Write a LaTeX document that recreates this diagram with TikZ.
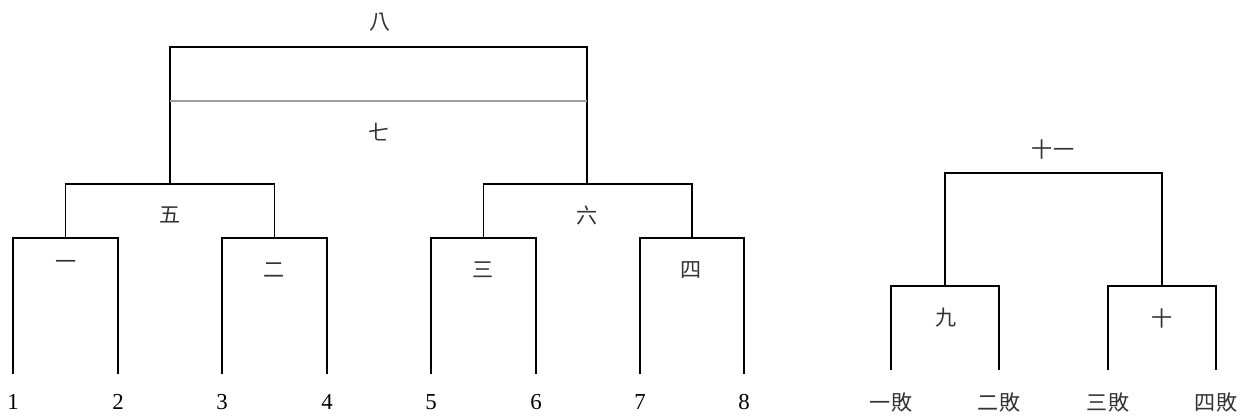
\documentclass[tikz,border=0pt]{standalone}
\usepackage{fontspec}
\setmainfont{Liberation Serif}
\newfontfamily\cjk{Noto Sans CJK TC}
\usepackage{tikz}
\usetikzlibrary{calc}

\begin{document}
\begin{tikzpicture}[x=0.02cm,y=-0.02cm,
    seed/.style={font=\fontsize{13}{15}\selectfont,inner sep=1pt},
    game/.style={font=\fontsize{12}{14}\selectfont\cjk,text=black!80,inner sep=1pt},
    leg/.style={line width=1.1pt},
    arm/.style={line width=0.9pt},
    seam/.style={line width=1.1pt,draw=gray!75}]
    \useasboundingbox (0,0) rectangle (1250,418);
    % winners bracket
    \foreach \i/\x in {1/13,2/118,3/222,4/327,5/431,6/536,7/640,8/744} {
      \node[seed] (s\i) at (\x,402) {\i};
      \coordinate (b\i) at (\x,374);
      \coordinate (t\i) at (\x,238);
    }
    \foreach \m/\p/\q in {1/1/2,2/3/4,3/5/6,4/7/8} {
      \draw[leg] (b\p) -- (t\p) -- (t\q) -- (b\q);
      \coordinate (m\m) at ($(t\p)!0.5!(t\q)$);
    }
    \node[game] (g1) at (66,265) {一};
    \node[game] (g2) at (274,270) {二};
    \node[game] (g3) at (483,270) {三};
    \node[game] (g4) at (691,270) {四};
    \coordinate (h5) at (170,184);
    \coordinate (h6) at (587,184);
    \draw[leg] (m1) |- (h5) -| (m2);
    \draw[leg] (m3) |- (h6) -| (m4);
    \node[game] (g5) at (170,215) {五};
    \node[game] (g6) at (587,215) {六};
    \coordinate (h8) at (379,47);
    \coordinate (l7) at (379,101);
    \draw[arm] (h5) |- (h8) -| (h6);
    \draw[seam] (h5 |- l7) -- (h6 |- l7);
    \node[game] (g8) at (380,22) {八};
    \node[game] (g7) at (379,132) {七};
    % losers bracket
    \foreach \i/\x/\t in {1/891/一,2/999/二,3/1108/三,4/1216/四} {
      \node[game] (e\i) at (\x,402) {\t 敗};
      \coordinate (eb\i) at (\x,370);
      \coordinate (et\i) at (\x,286);
    }
    \draw[leg] (eb1) -- (et1) -- (et2) -- (eb2);
    \draw[leg] (eb3) -- (et3) -- (et4) -- (eb4);
    \coordinate (k9) at ($(et1)!0.5!(et2)$);
    \coordinate (k10) at ($(et3)!0.5!(et4)$);
    \coordinate (h11) at (1053,173);
    \draw[arm] (k9) |- (h11) -| (k10);
    \node[game] (g9) at (946,318) {九};
    \node[game] (g10) at (1162,318) {十};
    \node[game] (g11) at (1053,150) {十一};
  \end{tikzpicture}
\end{document}
